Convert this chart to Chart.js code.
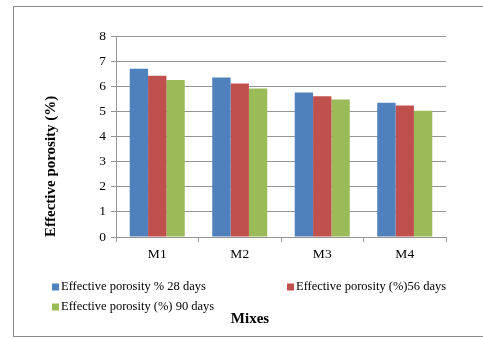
<!DOCTYPE html>
<html>
<head>
<meta charset="utf-8">
<script src="https://cdn.jsdelivr.net/npm/chart.js@4.4.0/dist/chart.umd.min.js"></script>
<style>
  html, body { margin: 0; padding: 0; background: #fff; }
  #wrap { position: relative; width: 483px; height: 339px; overflow: hidden; }
  #frame { position: absolute; left: 13px; top: 6px; width: 500px; height: 331px; border: 1px solid #8a8a8a; box-sizing: border-box; }
  canvas { position: absolute; left: 0; top: 0; }
</style>
</head>
<body>
<div id="wrap">
  <div id="frame"></div>
  <canvas id="chart" width="483" height="339"></canvas>
</div>
<script>
// Data
const mixes = ['M1', 'M2', 'M3', 'M4'];
const porosity28 = [6.7, 6.35, 5.75, 5.34];
const porosity56 = [6.42, 6.11, 5.6, 5.23];
const porosity90 = [6.25, 5.91, 5.47, 5.02];
const seriesLabels = ['Effective porosity % 28 days', 'Effective porosity (%)56 days', 'Effective porosity (%) 90 days'];
const yTicks = [0, 1, 2, 3, 4, 5, 6, 7, 8];

const serif = "'Liberation Serif', 'Times New Roman', serif";
const gridGray = '#959595';

// legend in two columns plus the "Mixes" caption underneath
const bottomLegend = {
  id: 'bottomLegend',
  afterDraw(chart) {
    const ctx = chart.ctx;
    const spots = [[52, 287], [287, 287], [52, 307]];
    ctx.save();
    ctx.font = '12.5px ' + serif;
    ctx.textBaseline = 'middle';
    ctx.textAlign = 'left';
    chart.data.datasets.forEach((ds, i) => {
      const [x, y] = spots[i];
      ctx.fillStyle = ds.backgroundColor;
      ctx.fillRect(x, y - 3.5, 7, 7);
      ctx.fillStyle = '#000';
      ctx.fillText(ds.label, x + 9, y);
    });
    ctx.font = 'bold 15px ' + serif;
    ctx.textAlign = 'center';
    ctx.fillText('Mixes', 250, 319);
    ctx.restore();
  }
};

const ctx = document.getElementById('chart').getContext('2d');
new Chart(ctx, {
  type: 'bar',
  data: {
    labels: mixes,
    datasets: [
      { label: seriesLabels[0], data: porosity28, backgroundColor: '#4F81BD' },
      { label: seriesLabels[1], data: porosity56, backgroundColor: '#C0504D' },
      { label: seriesLabels[2], data: porosity90, backgroundColor: '#9BBB59' }
    ]
  },
  options: {
    responsive: false,
    animation: false,
    layout: { padding: { left: 0, top: 36, right: 37, bottom: 62 } },
    datasets: {
      bar: { barPercentage: 1, categoryPercentage: 0.667, borderWidth: 0 }
    },
    scales: {
      x: {
        afterFit: (s) => { s.height = 40; },
        grid: { offset: true, drawOnChartArea: false, drawTicks: true, tickLength: 5, color: gridGray },
        border: { color: gridGray },
        ticks: { color: '#000', font: { family: serif, size: 13.5 }, padding: 4 }
      },
      y: {
        min: 0,
        max: 8,
        afterFit: (s) => { s.width = 116; },
        afterBuildTicks: (s) => { s.ticks = yTicks.map(v => ({ value: v })); },
        grid: { color: gridGray, tickLength: 5 },
        border: { color: gridGray },
        ticks: { color: '#000', font: { family: serif, size: 13.5 }, padding: 5 },
        title: {
          display: true,
          text: 'Effective porosity (%)',
          align: 'start',
          color: '#000',
          font: { family: serif, size: 15, weight: 'bold' },
          padding: { top: 42, bottom: 0 }
        }
      }
    },
    plugins: {
      legend: { display: false },
      tooltip: { enabled: false }
    }
  },
  plugins: [bottomLegend]
});
</script>
</body>
</html>
